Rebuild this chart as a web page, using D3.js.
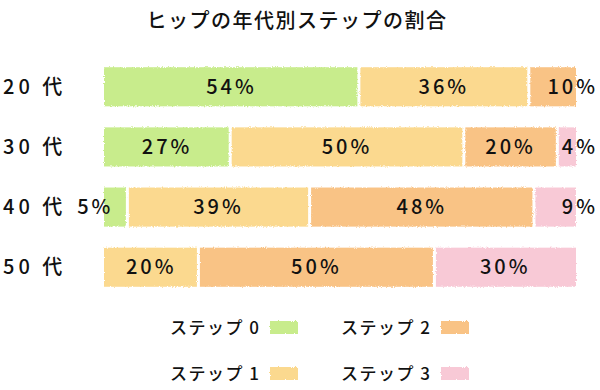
<!DOCTYPE html>
<meta charset="utf-8">
<script src="https://d3js.org/d3.v7.min.js"></script>
<style>
  body { margin: 0; background: #fff; }
  text { font-family: "Noto Sans CJK JP", "Noto Sans", sans-serif; fill: #111; font-weight: 500; }
</style>
<div id="chart"></div>
<script>
// data
var categories = ["20代", "30代", "40代", "50代"];
var seriesNames = ["ステップ0", "ステップ1", "ステップ2", "ステップ3"];
var step0 = [54, 27, 5, 0];
var step1 = [36, 50, 39, 20];
var step2 = [10, 20, 48, 50];
var step3 = [0, 4, 9, 30];
var colors = ["#c8ec8c", "#fbd98f", "#f9c385", "#f8c9d6"];

var width = 600, height = 390;
var margin = { top: 68, left: 104, right: 24 };

var svg = d3.select("#chart").append("svg")
    .attr("width", width)
    .attr("height", height);

// rough edges like a crayon fill
var defs = svg.append("defs");
var f = defs.append("filter").attr("id", "rough")
    .attr("x", "-5%").attr("y", "-20%").attr("width", "110%").attr("height", "140%");
f.append("feTurbulence").attr("type", "fractalNoise")
    .attr("baseFrequency", "0.9").attr("numOctaves", 2).attr("seed", 3).attr("result", "n");
f.append("feDisplacementMap").attr("in", "SourceGraphic").attr("in2", "n")
    .attr("scale", 3).attr("xChannelSelector", "R").attr("yChannelSelector", "G");

// table for the stack
var rows = categories.map(function (c, i) {
    return { cat: c, s0: step0[i], s1: step1[i], s2: step2[i], s3: step3[i] };
});
var keys = ["s0", "s1", "s2", "s3"];
var stacked = d3.stack().keys(keys).offset(d3.stackOffsetExpand)(rows);

var x = d3.scaleLinear().domain([0, 1]).range([margin.left, width - margin.right]);
var y = d3.scaleBand().domain(categories).range([margin.top - 11, margin.top - 11 + 4 * 60]).paddingInner(0.35).paddingOuter(0.17);

// title
svg.append("text")
    .attr("x", 297).attr("y", 28)
    .attr("text-anchor", "middle")
    .style("font-size", "20px")
    .style("letter-spacing", "1.5px")
    .text("ヒップの年代別ステップの割合");

// category labels
svg.append("g").selectAll("text")
    .data(categories)
    .enter().append("text")
    .attr("x", 3)
    .attr("y", function (d) { return y(d) + y.bandwidth() / 2 + 7; })
    .style("font-size", "20px")
    .style("letter-spacing", "4px")
    .text(function (d) { return d.replace("代", " 代"); });

// bars
stacked.forEach(function (layer, k) {
    var g = svg.append("g").attr("filter", "url(#rough)");
    g.selectAll("rect")
        .data(layer.filter(function (d) { return d[1] - d[0] > 0; }))
        .enter().append("rect")
        .attr("x", function (d) { return x(d[0]) + (d[0] > 0 ? 1.5 : 0); })
        .attr("y", function (d) { return y(d.data.cat); })
        .attr("width", function (d) {
            var x0 = x(d[0]) + (d[0] > 0 ? 1.5 : 0);
            var x1 = x(d[1]) - (d[1] < 0.999 ? 1.5 : 0);
            return Math.max(0, x1 - x0);
        })
        .attr("height", y.bandwidth())
        .attr("fill", colors[k]);
});

// value labels
stacked.forEach(function (layer, k) {
    var key = keys[k];
    svg.append("g").selectAll("text")
        .data(layer.filter(function (d) { return d.data[key] > 0; }))
        .enter().append("text")
        .attr("x", function (d) {
            var v = d.data[key];
            if (v < 12 && d[1] > 0.999) return x(1) + 22;
            if (v < 12 && d[0] < 0.001) return x(d[1]) - 14;
            return (x(d[0]) + x(d[1])) / 2;
        })
        .attr("text-anchor", function (d) {
            return d.data[key] < 12 ? "end" : "middle";
        })
        .attr("y", function (d) { return y(d.data.cat) + y.bandwidth() / 2 + 7; })
        .style("font-size", "20px")
        .style("letter-spacing", "3px")
        .text(function (d) { return d.data[key] + "%"; });
});

// legend
var legend = svg.append("g").selectAll("g")
    .data(seriesNames)
    .enter().append("g")
    .attr("transform", function (d, i) {
        var col = i < 2 ? 0 : 1, row = i % 2;
        return "translate(" + (170 + col * 171) + "," + (334 + row * 46) + ")";
    });
legend.append("text")
    .style("font-size", "17px")
    .style("letter-spacing", "1.5px")
    .text(function (d) { return d.replace("プ", "プ "); });
legend.append("rect")
    .attr("x", 100).attr("y", -13)
    .attr("width", 28).attr("height", 13)
    .attr("fill", function (d, i) { return colors[i]; })
    .attr("filter", "url(#rough)");
</script>
